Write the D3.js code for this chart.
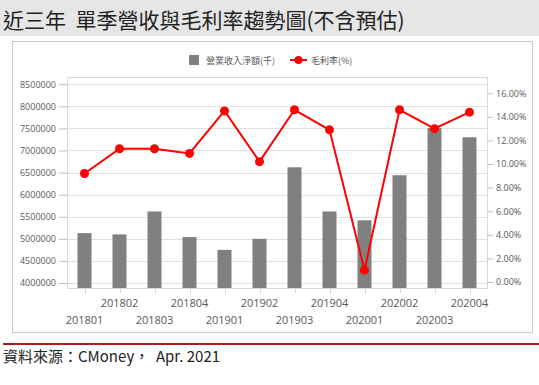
<!DOCTYPE html>
<html>
<head>
<meta charset="utf-8">
<script src="https://cdn.jsdelivr.net/npm/d3@7"></script>
<style>
  body { margin: 0; background: #fff; }
  #viz { width: 539px; height: 385px; }
  text { font-family: "Noto Sans CJK TC", "Open Sans", sans-serif; }
</style>
</head>
<body>
<div id="viz"></div>
<script>
const WIDTH = 539, HEIGHT = 385;

const quarters = ["201801", "201802", "201803", "201804", "201901", "201902",
  "201903", "201904", "202001", "202002", "202003", "202004"];
const revenue = [5130000, 5100000, 5620000, 5040000, 4750000, 5000000,
  6620000, 5620000, 5420000, 6440000, 7510000, 7300000];
const margin = [9.2, 11.3, 11.3, 10.9, 14.5, 10.2, 14.6, 12.9, 1.0, 14.6, 13.0, 14.4];
const leftTicks = [4000000, 4500000, 5000000, 5500000, 6000000, 6500000, 7000000, 7500000, 8000000, 8500000];
const rightTicks = [0, 2, 4, 6, 8, 10, 12, 14, 16];

const svg = d3.select("#viz").append("svg")
  .attr("width", WIDTH)
  .attr("height", HEIGHT);

// title band
svg.append("rect")
  .attr("x", 0).attr("y", 0)
  .attr("width", WIDTH).attr("height", 36)
  .attr("fill", "#e6e6e6");
svg.append("text")
  .attr("x", 3).attr("y", 28)
  .attr("font-size", 21)
  .attr("fill", "#222")
  .style("white-space", "pre")
  .text("近三年  單季營收與毛利率趨勢圖(不含預估)");

// chart frame
svg.append("rect")
  .attr("x", 12.5).attr("y", 41.5)
  .attr("width", 520).attr("height", 291)
  .attr("fill", "#fff")
  .attr("stroke", "#c8c8c8");

const plot = { left: 67, right: 487, top: 77, bottom: 288 };

const x = d3.scaleBand()
  .domain(quarters)
  .range([plot.left, plot.right])
  .paddingInner(0.6)
  .paddingOuter(0.3);
const yL = d3.scaleLinear()
  .domain([3887000, 8664000])
  .range([plot.bottom, plot.top]);
const yR = d3.scaleLinear()
  .domain([-0.51, 17.38])
  .range([plot.bottom, plot.top]);

// gridlines
svg.append("g")
  .selectAll("line")
  .data(leftTicks)
  .join("line")
  .attr("x1", plot.left).attr("x2", plot.right)
  .attr("y1", d => Math.round(yL(d)) + 0.5)
  .attr("y2", d => Math.round(yL(d)) + 0.5)
  .attr("stroke", "#e0e0e0");

// plot border
svg.append("rect")
  .attr("x", plot.left + 0.5).attr("y", plot.top + 0.5)
  .attr("width", plot.right - plot.left).attr("height", plot.bottom - plot.top)
  .attr("fill", "none")
  .attr("stroke", "#d9d9d9");

// left axis
const axL = svg.append("g")
  .attr("transform", `translate(${plot.left},0)`)
  .call(d3.axisLeft(yL).tickValues(leftTicks).tickSize(8).tickPadding(3).tickFormat(d3.format("d")));
axL.select(".domain").remove();
axL.selectAll("line").attr("stroke", "#bfbfbf");
axL.selectAll("text").attr("fill", "#595959").attr("font-size", 9)
  .style("font-family", "'Open Sans', sans-serif");

// right axis
const axR = svg.append("g")
  .attr("transform", `translate(${plot.right},0)`)
  .call(d3.axisRight(yR).tickValues(rightTicks).tickSize(6).tickPadding(3).tickFormat(d => d.toFixed(2) + "%"));
axR.select(".domain").remove();
axR.selectAll("line").attr("stroke", "#bfbfbf");
axR.selectAll("text").attr("fill", "#595959").attr("font-size", 9)
  .style("font-family", "'Open Sans', sans-serif");

// bars
svg.append("g")
  .selectAll("rect")
  .data(quarters)
  .join("rect")
  .attr("x", d => x(d))
  .attr("width", x.bandwidth())
  .attr("y", (d, i) => yL(revenue[i]))
  .attr("height", (d, i) => plot.bottom - yL(revenue[i]))
  .attr("fill", "#808080");

// x ticks and labels
const cx = d => x(d) + x.bandwidth() / 2;
svg.append("g")
  .selectAll("line")
  .data(quarters)
  .join("line")
  .attr("x1", d => Math.round(cx(d)) + 0.5).attr("x2", d => Math.round(cx(d)) + 0.5)
  .attr("y1", plot.bottom).attr("y2", plot.bottom + 5)
  .attr("stroke", "#d0d0d0");
svg.append("g")
  .selectAll("text")
  .data(quarters)
  .join("text")
  .attr("x", cx)
  .attr("y", (d, i) => i % 2 ? 307 : 324)
  .attr("text-anchor", "middle")
  .attr("font-size", 11)
  .attr("fill", "#595959")
  .style("font-family", "'Open Sans', sans-serif")
  .text(d => d);

// margin line
const line = d3.line()
  .x(d => cx(d))
  .y((d, i) => yR(margin[i]));
svg.append("path")
  .datum(quarters)
  .attr("d", line)
  .attr("fill", "none")
  .attr("stroke", "#ff0000")
  .attr("stroke-width", 2);
svg.append("g")
  .selectAll("circle")
  .data(quarters)
  .join("circle")
  .attr("cx", cx)
  .attr("cy", (d, i) => yR(margin[i]))
  .attr("r", 4.5)
  .attr("fill", "#ff0000");

// legend
const legend = svg.append("g");
legend.append("rect")
  .attr("x", 189).attr("y", 55)
  .attr("width", 10).attr("height", 10)
  .attr("fill", "#808080");
legend.append("text")
  .attr("x", 206).attr("y", 63.5)
  .attr("font-size", 9)
  .attr("fill", "#595959")
  .text("營業收入淨額(千)");
legend.append("line")
  .attr("x1", 290).attr("x2", 307)
  .attr("y1", 60).attr("y2", 60)
  .attr("stroke", "#ff0000").attr("stroke-width", 2);
legend.append("circle")
  .attr("cx", 298.5).attr("cy", 60).attr("r", 4)
  .attr("fill", "#ff0000");
legend.append("text")
  .attr("x", 311).attr("y", 63.5)
  .attr("font-size", 9)
  .attr("fill", "#595959")
  .text("毛利率(%)");

// source
svg.append("rect")
  .attr("x", 3).attr("y", 343)
  .attr("width", WIDTH - 3).attr("height", 2)
  .attr("fill", "#b01a1a");
svg.append("text")
  .attr("x", 3).attr("y", 362)
  .attr("font-size", 15)
  .attr("fill", "#222")
  .style("white-space", "pre")
  .text("資料來源：CMoney，  Apr. 2021");
</script>
</body>
</html>
